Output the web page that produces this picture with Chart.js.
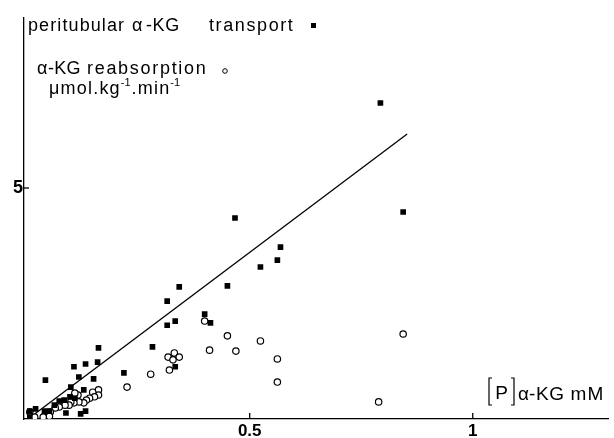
<!DOCTYPE html>
<html>
<head>
<meta charset="utf-8">
<script src="https://cdn.jsdelivr.net/npm/chart.js@4/dist/chart.umd.min.js"></script>
<style>
  body { margin: 0; background: #fff; }
  canvas { display: block; }
</style>
</head>
<body>
<canvas id="myChart" width="614" height="438"></canvas>
<script>
// peritubular alpha-KG transport (filled squares)
var transportX = [0.793, 0.844, 0.569, 0.562, 0.524, 0.467, 0.450, 0.412, 0.399, 0.342,
  0.315, 0.333, 0.315, 0.282, 0.333, 0.218, 0.161, 0.159, 0.106, 0.132,
  0.042, 0.117, 0.150, 0.099, 0.128, 0.097, 0.108, 0.073, 0.062, 0.088,
  0.121, 0.132, 0.051, 0.040, 0.020, 0.007, 0.007, 0.084];
var transportY = [6.84, 4.48, 3.72, 3.44, 3.29, 4.35, 2.88, 2.08, 2.27, 2.86,
  2.55, 2.12, 2.03, 1.56, 1.13, 1.00, 1.54, 1.23, 1.13, 1.19,
  0.84, 0.91, 0.87, 0.69, 0.63, 0.48, 0.45, 0.39, 0.30, 0.13,
  0.11, 0.17, 0.17, 0.17, 0.22, 0.17, 0.04, 0.41];
// alpha-KG reabsorption (open circles)
var reabsX = [0.844, 0.789, 0.562, 0.562, 0.524, 0.469, 0.450, 0.410, 0.399, 0.331,
  0.317, 0.342, 0.328, 0.320, 0.278, 0.225, 0.161, 0.161, 0.148, 0.152,
  0.141, 0.134, 0.128, 0.117, 0.106, 0.099, 0.115, 0.108, 0.095, 0.086,
  0.073, 0.064, 0.053, 0.042, 0.051, 0.037, 0.018, 0.007];
var reabsY = [1.84, 0.37, 1.30, 0.80, 1.69, 1.47, 1.80, 1.49, 2.12, 1.43,
  1.34, 1.34, 1.28, 1.06, 0.97, 0.69, 0.63, 0.52, 0.58, 0.48,
  0.45, 0.41, 0.35, 0.37, 0.35, 0.37, 0.52, 0.56, 0.30, 0.30,
  0.26, 0.24, 0.15, 0.09, 0.06, 0.04, 0.04, 0.15];
// regression line for transport
var fitX = [0.003, 0.853];
var fitY = [0.0, 6.17];
// tick labels
var xTicks = [0.5, 1];
var yTicks = [5];

function pairs(xs, ys) {
  return xs.map(function (x, i) { return { x: x, y: ys[i] }; });
}

Chart.defaults.font.family = "'Liberation Sans', Arial, sans-serif";
Chart.defaults.color = '#000';

function txt(c, s, x, y, size, ls) {
  c.font = size + "px 'Liberation Sans'";
  c.letterSpacing = (ls || 0) + 'px';
  c.fillText(s, x, y);
  return x + c.measureText(s).width;
}

// inward tick marks + figure texts
const figureText = {
  id: 'figureText',
  afterDraw: function (chart) {
    const c = chart.ctx;
    const xs = chart.scales.x, ys = chart.scales.y;
    c.save();
    c.strokeStyle = '#000';
    c.lineWidth = 1.3;
    xTicks.forEach(function (v) {
      const px = xs.getPixelForValue(v);
      c.beginPath(); c.moveTo(px, xs.top); c.lineTo(px, xs.top - 6); c.stroke();
    });
    yTicks.forEach(function (v) {
      const py = ys.getPixelForValue(v);
      c.beginPath(); c.moveTo(ys.right, py); c.lineTo(ys.right + 5, py); c.stroke();
    });

    c.fillStyle = '#000';
    c.textBaseline = 'alphabetic';
    c.textAlign = 'left';
    // top legend lines
    txt(c, 'peritubular', 28, 31, 18, 1.1);
    txt(c, 'α', 132, 31, 18, 0);
    txt(c, '-KG', 146, 31, 18, 0.6);
    txt(c, 'transport', 209, 31, 18, 1.6);
    c.fillRect(311, 23, 5, 5);

    txt(c, 'α', 37, 74, 18, 0);
    txt(c, '-KG', 48, 74, 18, 0.2);
    txt(c, 'reabsorption', 87, 74, 18, 1.7);
    c.lineWidth = 1;
    c.beginPath(); c.arc(225, 71, 2.3, 0, Math.PI * 2); c.stroke();

    var x = txt(c, 'μmol.kg', 49, 94, 18, 1.2);
    x = txt(c, '-1', x, 86, 11, 0);
    x = txt(c, '.min', x + 1, 94, 18, 1.2);
    txt(c, '-1', x, 86, 11, 0);

    // [P] label
    c.lineWidth = 1.2;
    c.beginPath();
    c.moveTo(492, 378); c.lineTo(489, 378); c.lineTo(489, 405); c.lineTo(492, 405);
    c.moveTo(511, 378); c.lineTo(514, 378); c.lineTo(514, 405); c.lineTo(511, 405);
    c.stroke();
    c.textAlign = 'center';
    txt(c, 'P', 501.5, 399, 19, 0);
    c.textAlign = 'left';
    txt(c, 'α', 518, 400, 19, 0);
    x = txt(c, '-KG', 529, 400, 19, 0.6);
    txt(c, 'mM', x + 6, 400, 19, 1);
    c.restore();
  }
};

new Chart(document.getElementById('myChart'), {
  type: 'scatter',
  data: {
    datasets: [
      {
        label: 'transport',
        data: pairs(transportX, transportY),
        pointStyle: 'rect',
        pointRadius: 4,
        backgroundColor: '#000',
        borderColor: '#000',
        borderWidth: 0
      },
      {
        label: 'reabsorption',
        data: pairs(reabsX, reabsY),
        pointStyle: 'circle',
        pointRadius: 3.2,
        backgroundColor: '#fff',
        borderColor: '#000',
        borderWidth: 1.2
      },
      {
        type: 'line',
        label: 'fit',
        data: pairs(fitX, fitY),
        borderColor: '#000',
        borderWidth: 1.3,
        pointRadius: 0,
        fill: false
      }
    ]
  },
  options: {
    responsive: false,
    animation: false,
    layout: { padding: { top: 18, right: 0, left: 0, bottom: 0 } },
    plugins: {
      legend: { display: false },
      tooltip: { enabled: false }
    },
    scales: {
      x: {
        type: 'linear',
        min: -0.006,
        max: 1.305,
        afterBuildTicks: function (s) { s.ticks = xTicks.map(function (v) { return { value: v }; }); },
        afterFit: function (s) { s.height = 19; },
        grid: { display: false, drawTicks: false },
        border: { color: '#000', width: 1.3 },
        ticks: {
          padding: 2,
          font: { size: 17, weight: 'bold' },
          callback: function (v) { return v === 1 ? '1' : String(v); }
        }
      },
      y: {
        type: 'linear',
        min: 0,
        max: 8.68,
        afterBuildTicks: function (s) { s.ticks = yTicks.map(function (v) { return { value: v }; }); },
        afterFit: function (s) { s.width = 24; },
        grid: { display: false, drawTicks: false },
        border: { color: '#000', width: 1.3 },
        ticks: {
          padding: 1,
          font: { size: 18, weight: 'bold' }
        }
      }
    }
  },
  plugins: [figureText]
});
</script>
</body>
</html>
